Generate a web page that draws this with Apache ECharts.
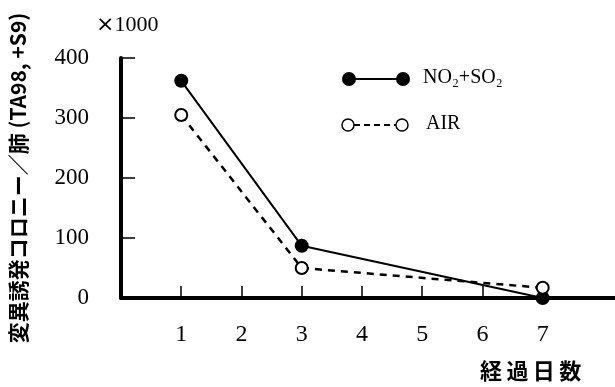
<!DOCTYPE html>
<html>
<head>
<meta charset="utf-8">
<script src="https://cdn.jsdelivr.net/npm/echarts@6/dist/echarts.min.js"></script>
<style>
  html, body { margin: 0; padding: 0; background: #fff; }
  #chart { width: 615px; height: 387px; }
</style>
</head>
<body>
<div id="chart"></div>
<script>
// 経過日数
var days = [1, 3, 7];
// ×1000 colonies
var no2so2Values = [362, 87, 0];
var airValues = [305, 50, 17];
var xTicks = [1, 2, 3, 4, 5, 6, 7];
var yTicks = [0, 100, 200, 300, 400];

var seriesNames = ['NO₂+SO₂', 'AIR'];

var toPairs = function(xs, ys) {
	var out = [];
	for (var i = 0; i < xs.length; i++) {
		out.push([xs[i], ys[i]]);
	}
	return out;
};

var serif = 'Liberation Serif';
var myChart = echarts.init(document.getElementById('chart'));

var option = {
	backgroundColor: '#fff',
	animation: false,
	grid: { left: 118, right: 0, top: 58, bottom: 89 },
	xAxis: {
		type: 'value',
		min: 0,
		max: 8.2,
		interval: 1,
		splitLine: { show: false },
		axisLine: { lineStyle: { color: '#000', width: 4 } },
		axisTick: { inside: true, length: 12, customValues: xTicks, lineStyle: { color: '#000', width: 1.5 } },
		axisLabel: { customValues: xTicks, margin: 25, color: '#000', fontFamily: serif, fontSize: 24 }
	},
	yAxis: {
		type: 'value',
		min: yTicks[0],
		max: yTicks[yTicks.length - 1],
		interval: 100,
		splitLine: { show: false },
		axisLine: { show: true, lineStyle: { color: '#000', width: 4 } },
		axisTick: { show: true, inside: true, length: 14, lineStyle: { color: '#000', width: 1.5 } },
		axisLabel: { margin: 32, color: '#000', fontFamily: serif, fontSize: 23 },
		name: '変異誘発コロニー／肺 (TA98, +S9)',
		nameLocation: 'middle',
		nameRotate: 90,
		nameGap: 92,
		nameTextStyle: { color: '#000', fontFamily: 'Noto Sans CJK JP', fontWeight: 'bold', fontSize: 21 }
	},
	series: [
		{
			name: seriesNames[0],
			type: 'line',
			data: toPairs(days, no2so2Values),
			symbol: 'circle',
			symbolSize: 14,
			clip: false,
			itemStyle: { color: '#000' },
			lineStyle: { color: '#000', width: 2 }
		},
		{
			name: seriesNames[1],
			type: 'line',
			data: toPairs(days, airValues),
			symbol: 'emptyCircle',
			symbolSize: 12,
			clip: false,
			itemStyle: { color: '#000', borderWidth: 1.5 },
			lineStyle: { color: '#000', width: 2.5, type: [7, 6] }
		}
	],
	graphic: [
		{
			type: 'text', left: 96, top: 14,
			style: {
				text: '{x|×}{n|1000}',
				fill: '#000',
				rich: {
					x: { fontFamily: 'DejaVu Sans', fontSize: 22, fill: '#000' },
					n: { fontFamily: serif, fontSize: 22, fill: '#000' }
				}
			}
		},
		{ type: 'text', left: 480, top: 360, style: { text: '経\u2009過\u2009日\u2009数', fill: '#000', font: 'bold 22px "Noto Sans CJK JP"' } },
		// legend row 1
		{ type: 'line', shape: { x1: 349, y1: 79, x2: 403, y2: 79 }, style: { stroke: '#000', lineWidth: 2 } },
		{ type: 'circle', shape: { cx: 349, cy: 79, r: 7 }, style: { fill: '#000' } },
		{ type: 'circle', shape: { cx: 403, cy: 79, r: 7 }, style: { fill: '#000' } },
		{ type: 'text', left: 423, top: 68, style: { text: seriesNames[0], fill: '#000', font: '20px ' + serif } },
		// legend row 2
		{ type: 'line', shape: { x1: 354, y1: 125, x2: 396, y2: 125 }, style: { stroke: '#000', lineWidth: 2, lineDash: [6, 4] } },
		{ type: 'circle', shape: { cx: 348, cy: 125, r: 6 }, style: { fill: '#fff', stroke: '#000', lineWidth: 1.5 } },
		{ type: 'circle', shape: { cx: 402, cy: 125, r: 6 }, style: { fill: '#fff', stroke: '#000', lineWidth: 1.5 } },
		{ type: 'text', left: 426, top: 114, style: { text: seriesNames[1], fill: '#000', font: '20px ' + serif } }
	]
};

myChart.setOption(option);
</script>
</body>
</html>
